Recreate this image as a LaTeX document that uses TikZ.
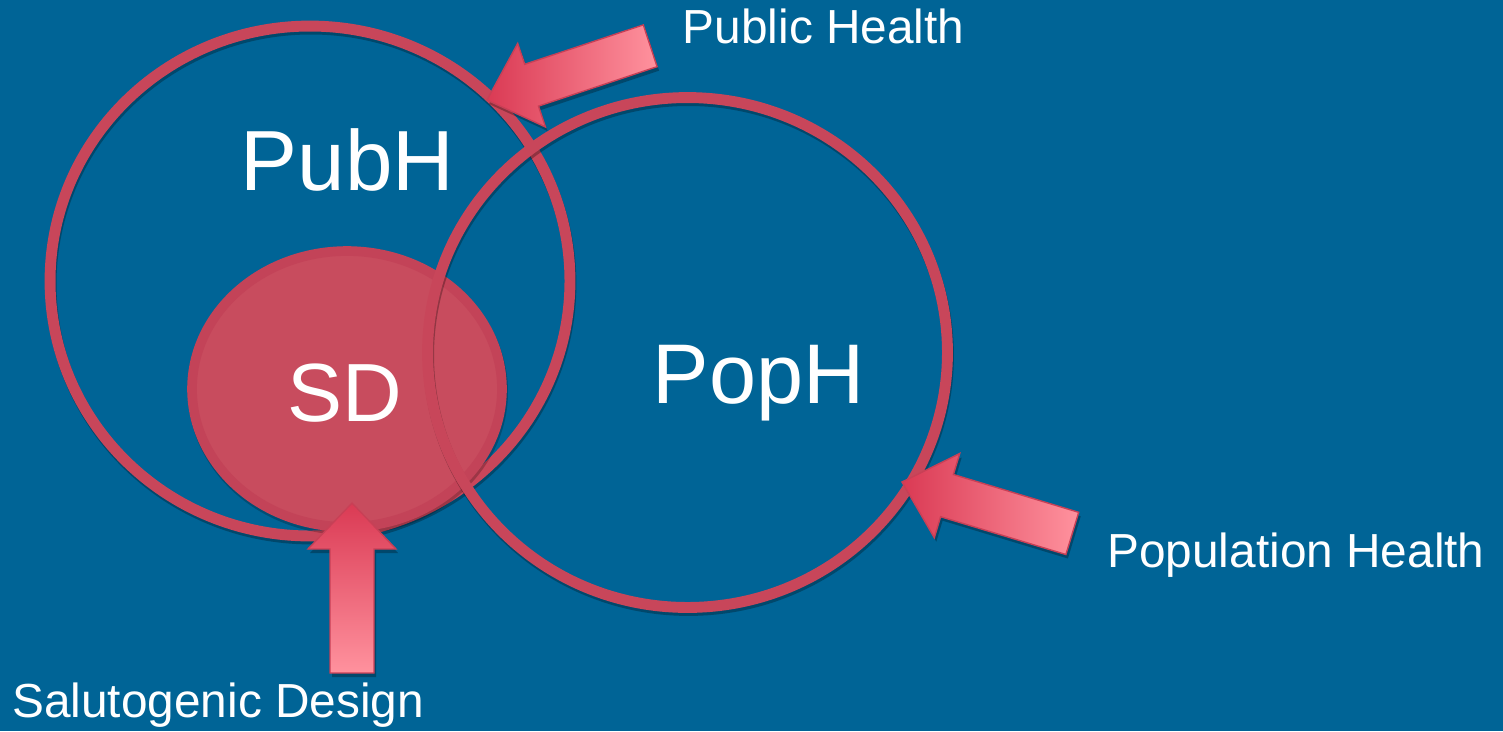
\documentclass[tikz,border=0pt]{standalone}
\usepackage{fontspec}
\setmainfont{Liberation Sans}
\usetikzlibrary{shapes.geometric}
\definecolor{bgblue}{RGB}{0,100,150}
\definecolor{ringred}{RGB}{200,70,90}
\definecolor{sdfill}{RGB}{200,76,94}
\definecolor{sdedge}{RGB}{195,67,88}
\definecolor{arrowred}{RGB}{218,58,84}
\definecolor{arrowpink}{RGB}{255,146,158}
\definecolor{arrowedge}{RGB}{200,64,86}
\begin{document}
\begin{tikzpicture}[x=0.02cm,y=-0.02cm,
  ring/.style={ellipse, draw=ringred, line width=6.2pt, minimum width=10.4cm, minimum height=10.2cm, inner sep=0pt},
  ringshadow/.style={ellipse, draw=black, draw opacity=0.28, line width=6.2pt, minimum width=10.4cm, minimum height=10.2cm, inner sep=0pt},
  sdshape/.style={ellipse, fill=sdfill, draw=sdedge, line width=5.5pt, minimum width=6.2cm, minimum height=5.52cm, inner sep=0pt},
  sdshadow/.style={ellipse, fill=black, fill opacity=0.22, minimum width=6.4cm, minimum height=5.72cm, inner sep=0pt},
  lbl/.style={text=white, anchor=base west, inner sep=0pt, font=\fontsize{27.2}{30}\selectfont},
  big/.style={text=white, anchor=base west, inner sep=0pt},
  arrowbody/.style={draw=arrowedge, line width=0.8pt},
  arrowshadow/.style={fill=black, fill opacity=0.28}]

% background
\fill[bgblue] (0,0) rectangle (1503,731);
\useasboundingbox (0,0) rectangle (1503,731);

% Public health circle
\node[ringshadow] (pubhsh) at (311,284) {};
\node[ring] (pubh) at (310,281) {};

% Salutogenic design ellipse
\node[sdshadow] (sdsh) at (348,392) {};
\node[sdshape] (sd) at (347,389) {};

% Population health circle
\node[ringshadow] (pophsh) at (688.5,355.5) {};
\node[ring] (poph) at (687.5,352.5) {};

% arrow shadows
\begin{scope}[shift={(2,4)}]
\fill[arrowshadow] (487,100) -- (517.7,43.4) -- (524.7,64.3) -- (643.3,24.9) -- (657.1,66.7) -- (538.5,106.1) -- (545.5,127) -- cycle;
\fill[arrowshadow] (902,482) -- (959.7,453.5) -- (953.4,474.5) -- (1078.7,512.3) -- (1065.9,554.5) -- (940.6,516.7) -- (934.3,537.7) -- cycle;
\fill[arrowshadow] (352,503) -- (396,549) -- (374,549) -- (374,673) -- (330,673) -- (330,549) -- (308,549) -- cycle;
\end{scope}

% arrows
\coordinate (pubtip) at (487,100);
\coordinate (poptip) at (902,482);
\coordinate (sdtip) at (352,503);
\shade[arrowbody, left color=arrowred, right color=arrowpink]
  (pubtip) -- (517.7,43.4) -- (524.7,64.3) -- (643.3,24.9) -- (657.1,66.7) -- (538.5,106.1) -- (545.5,127) -- cycle;
\shade[arrowbody, left color=arrowred, right color=arrowpink]
  (poptip) -- (959.7,453.5) -- (953.4,474.5) -- (1078.7,512.3) -- (1065.9,554.5) -- (940.6,516.7) -- (934.3,537.7) -- cycle;
\shade[arrowbody, top color=arrowred, bottom color=arrowpink]
  (sdtip) -- (396,549) -- (374,549) -- (374,673) -- (330,673) -- (330,549) -- (308,549) -- cycle;

% labels
\node[big, font=\fontsize{48.6}{52}\selectfont] (pubhlbl) at (240.5,190) {PubH};
\node[big, font=\fontsize{48.2}{52}\selectfont] (pophlbl) at (652.5,403) {PopH};
\node[big, font=\fontsize{47}{50}\selectfont] (sdlbl) at (287.5,421) {SD};
\node[lbl] (publbl) at (682.5,43) {Public Health};
\node[lbl] (poplbl) at (1107,567) {Population Health};
\node[lbl] (sallbl) at (12,717) {Salutogenic Design};
\end{tikzpicture}
\end{document}
